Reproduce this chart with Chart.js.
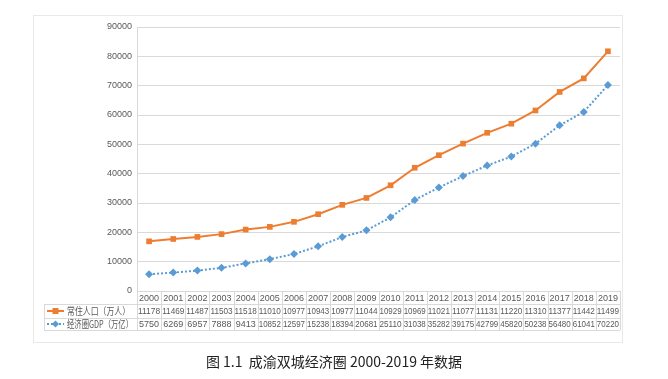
<!DOCTYPE html>
<html>
<head>
<meta charset="utf-8">
<script src="https://cdn.jsdelivr.net/npm/chart.js@4.4.1/dist/chart.umd.min.js"></script>
<style>
    html, body { margin: 0; padding: 0; background: #fff; }
    #wrap { position: relative; width: 668px; height: 379px; }
</style>
</head>
<body>
<div id="wrap"><canvas id="chart" width="668" height="379"></canvas></div>
<script>
        // Data (Excel stacked line chart with data table)
        const years = ['2000', '2001', '2002', '2003', '2004', '2005', '2006', '2007', '2008', '2009',
            '2010', '2011', '2012', '2013', '2014', '2015', '2016', '2017', '2018', '2019'];
        const population = [11178, 11469, 11487, 11503, 11518, 11010, 10977, 10943, 10977, 11044,
            10929, 10969, 11021, 11077, 11131, 11220, 11310, 11377, 11442, 11499];
        const gdp = [5750, 6269, 6957, 7888, 9413, 10852, 12597, 15238, 18394, 20681,
            25110, 31038, 35282, 39175, 42799, 45820, 50238, 56480, 61041, 70220];
        const seriesNames = ['常住人口（万人）', '经济圈GDP（万亿）'];
        const yTicks = [0, 10000, 20000, 30000, 40000, 50000, 60000, 70000, 80000, 90000];
        const caption = '图 1.1  成渝双城经济圈 2000-2019 年数据';

        const orange = '#ED7D31';
        const blue = '#5B9BD5';
        const gridColor = '#D9D9D9';
        const textColor = '#595959';
        const numFont = "'Liberation Sans', sans-serif";
        const cjkFont = "'Noto Sans CJK SC', sans-serif";

        // Frame, data table and caption
        const tablePlugin = {
            id: 'dataTable',
            beforeDraw(chart) {
                const ctx = chart.ctx;
                ctx.save();
                ctx.fillStyle = '#fff';
                ctx.fillRect(0, 0, chart.width, chart.height);
                ctx.strokeStyle = '#E8E8E8';
                ctx.lineWidth = 1;
                ctx.strokeRect(33.5, 15.5, 589, 327);
                ctx.restore();
            },
            afterDraw(chart) {
                const ctx = chart.ctx;
                const x = chart.scales.x;
                const area = chart.chartArea;
                const step = x.getPixelForValue(1) - x.getPixelForValue(0);
                const rows = [291, 304, 318, 330];
                const legendLeft = 44;

                ctx.save();
                ctx.strokeStyle = gridColor;
                ctx.lineWidth = 1;
                ctx.beginPath();
                // horizontal lines
                ctx.moveTo(legendLeft, rows[1] + 0.5); ctx.lineTo(area.right, rows[1] + 0.5);
                ctx.moveTo(legendLeft, rows[2] + 0.5); ctx.lineTo(area.right, rows[2] + 0.5);
                ctx.moveTo(legendLeft, rows[3] + 0.5); ctx.lineTo(area.right, rows[3] + 0.5);
                // vertical lines
                for (let i = 0; i <= years.length; i++) {
                    const px = Math.round(x.getPixelForValue(i) - step / 2) + 0.5;
                    ctx.moveTo(px, rows[0]); ctx.lineTo(px, rows[3]);
                }
                ctx.moveTo(legendLeft + 0.5, rows[1]); ctx.lineTo(legendLeft + 0.5, rows[3]);
                ctx.stroke();

                // cell texts
                ctx.fillStyle = textColor;
                ctx.textAlign = 'center';
                ctx.textBaseline = 'middle';
                ctx.font = '9px ' + numFont;
                const maxW = step - 2;
                years.forEach((yr, i) => {
                    const px = x.getPixelForValue(i);
                    ctx.fillText(yr, px, (rows[0] + rows[1]) / 2 + 1, maxW);
                    ctx.fillText(String(population[i]), px, (rows[1] + rows[2]) / 2 + 1, maxW);
                    ctx.fillText(String(gdp[i]), px, (rows[2] + rows[3]) / 2 + 1, maxW);
                });

                // legend keys
                const keyY1 = (rows[1] + rows[2]) / 2;
                const keyY2 = (rows[2] + rows[3]) / 2;
                ctx.lineWidth = 2;
                ctx.strokeStyle = orange;
                ctx.beginPath();
                ctx.moveTo(47, keyY1); ctx.lineTo(64, keyY1);
                ctx.stroke();
                ctx.fillStyle = orange;
                ctx.fillRect(52.5, keyY1 - 3, 6, 6);

                ctx.strokeStyle = blue;
                ctx.setLineDash([2, 2]);
                ctx.beginPath();
                ctx.moveTo(47, keyY2); ctx.lineTo(64, keyY2);
                ctx.stroke();
                ctx.setLineDash([]);
                ctx.fillStyle = blue;
                ctx.beginPath();
                ctx.moveTo(55.5, keyY2 - 3.5); ctx.lineTo(59, keyY2);
                ctx.lineTo(55.5, keyY2 + 3.5); ctx.lineTo(52, keyY2);
                ctx.closePath();
                ctx.fill();

                ctx.fillStyle = textColor;
                ctx.textAlign = 'left';
                ctx.font = '10px ' + cjkFont;
                ctx.fillText(seriesNames[0], 67, keyY1 + 0.5, 63);
                ctx.fillText(seriesNames[1], 67, keyY2 + 0.5, 66);

                // caption
                ctx.fillStyle = '#222';
                ctx.textAlign = 'center';
                ctx.font = "14px 'Noto Sans CJK SC', 'Liberation Serif', serif";
                ctx.fillText(caption, 334, 362);
                ctx.restore();
            }
        };

        const ctx = document.getElementById('chart').getContext('2d');
        const chart = new Chart(ctx, {
            type: 'line',
            data: {
                labels: years,
                datasets: [{
                    label: seriesNames[1],
                    data: gdp,
                    borderColor: blue,
                    backgroundColor: blue,
                    borderWidth: 2,
                    borderDash: [2, 2],
                    pointStyle: 'rectRot',
                    pointRadius: 4,
                    pointBorderWidth: 0,
                    tension: 0,
                    fill: false,
                    order: 1
                }, {
                    label: seriesNames[0],
                    data: population,
                    borderColor: orange,
                    backgroundColor: orange,
                    borderWidth: 2,
                    pointStyle: 'rect',
                    pointRadius: 4,
                    pointBorderWidth: 0,
                    tension: 0,
                    fill: false,
                    order: 2
                }]
            },
            options: {
                responsive: false,
                animation: false,
                layout: { padding: { left: 0, right: 48, top: 27, bottom: 88 } },
                plugins: {
                    legend: { display: false },
                    tooltip: { enabled: false }
                },
                scales: {
                    x: {
                        display: false,
                        offset: true
                    },
                    y: {
                        stacked: true,
                        min: 0,
                        max: 90000,
                        afterFit: function(scale) { scale.width = 137; },
                        afterBuildTicks: function(scale) {
                            scale.ticks = yTicks.map(v => ({ value: v }));
                        },
                        ticks: {
                            color: textColor,
                            padding: 5,
                            font: { family: numFont, size: 9 },
                            callback: function(value) { return String(value); }
                        },
                        grid: {
                            color: gridColor,
                            drawTicks: false
                        },
                        border: { color: gridColor }
                    }
                }
            },
            plugins: [tablePlugin]
        });
</script>
</body>
</html>
